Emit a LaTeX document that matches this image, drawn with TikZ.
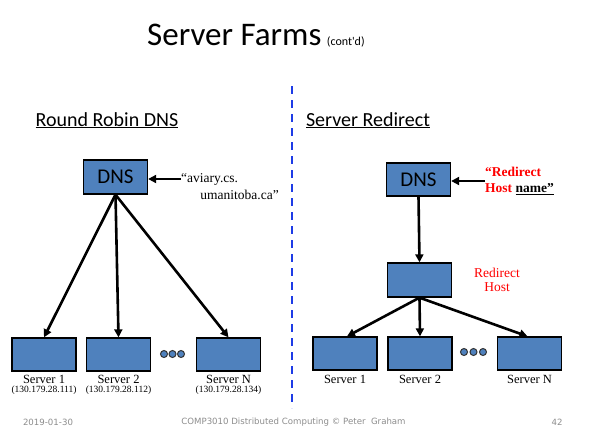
\documentclass[tikz,border=0pt]{standalone}
\usepackage{fontspec}
\setmainfont{Liberation Serif}
\newfontfamily\slidefont{Carlito}
\newfontfamily\footfont{DejaVu Sans}
\usepackage{xcolor}
\usetikzlibrary{arrows.meta,positioning}
\definecolor{boxblue}{HTML}{4F81BD}
\definecolor{footgrey}{HTML}{8C8C8C}
\definecolor{sepblue}{HTML}{1E3CE6}

\begin{document}
\begin{tikzpicture}[x=1pt,y=-1pt,
    hostbox/.style={draw=black, line width=1.3pt, fill=boxblue,
        minimum width=64pt, minimum height=33pt, inner sep=0pt},
    dnslabel/.style={font=\slidefont\fontsize{21}{21}\selectfont},
    arr/.style={line width=2.6pt, -{Triangle[length=8pt,width=8pt]}},
    srvname/.style={font=\fontsize{12.5}{13}\selectfont, inner sep=0pt, anchor=base},
    srvip/.style={font=\fontsize{9.5}{10}\selectfont, inner sep=0pt, anchor=base},
    dot/.style={circle, draw=black!80, line width=1pt, fill=boxblue,
        minimum size=7pt, inner sep=0pt},
    foot/.style={font=\footfont\fontsize{8.6}{9}\selectfont, text=footgrey, inner sep=0pt}]

\useasboundingbox (0,0) rectangle (594,434);

% Titolo
\node[anchor=base west, inner sep=0pt] (title) at (147,45)
    {\slidefont\fontsize{33}{33}\selectfont Server Farms\,{\fontsize{12}{12}\selectfont(cont'd)}};

% Separatore
\draw[sepblue, line width=1.4pt, dash pattern=on 8pt off 6pt] (292,86) -- (292,408);

% Intestazioni
\node[anchor=base, inner sep=0pt, font=\slidefont\fontsize{20}{20}\selectfont] (hleft) at (107,126)
    {\underline{Round Robin DNS}};
\node[anchor=base, inner sep=0pt, font=\slidefont\fontsize{20}{20}\selectfont] (hright) at (368,126)
    {\underline{Server Redirect}};

% Round Robin DNS
\node[hostbox, dnslabel, minimum height=34pt] (dnsL) at (115.5,177) {DNS};
\node[anchor=west, inner sep=0pt, font=\fontsize{13.5}{14}\selectfont] (qL1) at (181,179) {``aviary.cs.};
\node[anchor=east, inner sep=0pt, font=\fontsize{13.5}{14}\selectfont] (qL2) at (279,195) {umanitoba.ca''};

\node[hostbox] (sL1) at (44,354.5) {};
\node[hostbox] (sL2) at (118.5,354.5) {};
\node[hostbox] (sLN) at (228.5,354.5) {};
\foreach \x in {164,172.5,181} \node[dot] at (\x,354) {};

\node[srvname] (nL1) at (44,383) {Server 1};
\node[srvname] (nL2) at (118.5,383) {Server 2};
\node[srvname] (nLN) at (228.5,383) {Server N};
\node[srvip] (iL1) at (44,392.5) {(130.179.28.111)};
\node[srvip] (iL2) at (118.5,392.5) {(130.179.28.112)};
\node[srvip] (iLN) at (228.5,392.5) {(130.179.28.134)};

\draw[arr] (qL1.west) -- (dnsL.east |- qL1.west);
\draw[arr] (dnsL.south) -- (sL1.north);
\draw[arr] (dnsL.south) -- (sL2.north);
\draw[arr] (dnsL.south) -- (sLN.north);

% Server Redirect
\node[hostbox, dnslabel] (dnsR) at (418.5,179.5) {DNS};
\node[anchor=west, inner sep=0pt, align=left, text=red,
      font=\bfseries\fontsize{13.5}{16}\selectfont] (qR) at (485,181)
    {``Redirect\\Host \textcolor{black}{\underline{name''}}};
\node[hostbox, minimum height=34pt] (redir) at (419.5,280) {};
\node[align=center, text=red, inner sep=0pt, font=\fontsize{13.5}{14}\selectfont] (redirlab) at (497,280)
    {Redirect\\Host};

\node[hostbox] (sR1) at (345,353.5) {};
\node[hostbox] (sR2) at (420,353.5) {};
\node[hostbox] (sRN) at (529.5,353.5) {};
\foreach \x in {464,473.5,483} \node[dot] at (\x,352) {};

\node[srvname] (nR1) at (345,383) {Server 1};
\node[srvname] (nR2) at (420,383) {Server 2};
\node[srvname] (nRN) at (529.5,383) {Server N};

\draw[arr] (qR.west) -- (dnsR.east |- qR.west);
\draw[arr] (dnsR.south) -- (redir.north);
\draw[arr] (redir.south) -- ([xshift=2pt]sR1.north);
\draw[arr] (redir.south) -- (sR2.north);
\draw[arr] (redir.south) -- ([xshift=-2pt]sRN.north);

% Pie di pagina
\node[foot] (fdate) at (48,422) {2019-01-30};
\node[foot] (fcourse) at (293.5,422) {COMP3010 Distributed Computing \textcopyright{} Peter\ \ Graham};
\node[foot] (fpage) at (557,422) {42};
\end{tikzpicture}
\end{document}
